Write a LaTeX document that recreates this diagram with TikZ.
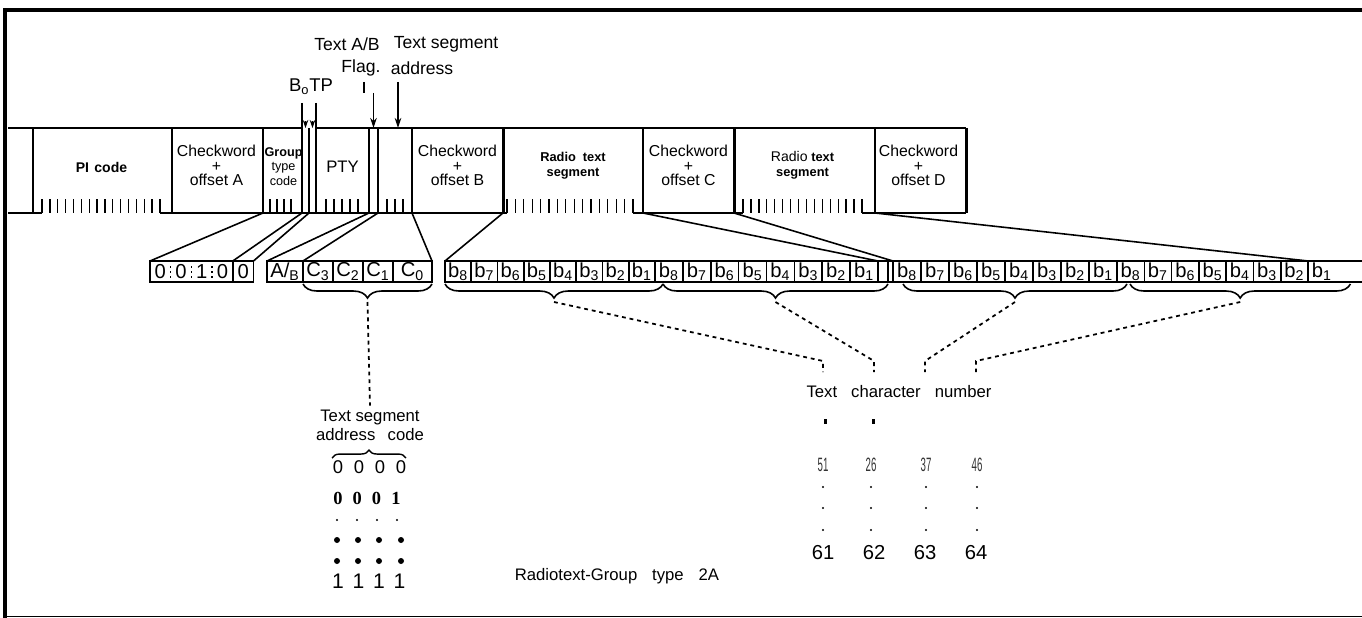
\documentclass[tikz,border=0pt]{standalone}
\usepackage{fontspec}
\setmainfont{Liberation Sans}
\newfontfamily\serifrm{Liberation Serif}
\usepackage{graphicx}
\usepackage{tikz}
\usetikzlibrary{
  arrows.meta, positioning, calc, decorations.pathreplacing
}
\tikzset{
  frame/.style ={line width=2.8pt},
  edge/.style  ={line width=0.85pt},
  bnd/.style   ={line width=1.7pt},
  tick/.style  ={line width=0.75pt},
  link/.style  ={line width=0.9pt},
  field/.style ={inner sep=0pt, outer sep=0pt, minimum height={85*0.02cm}},
  cwtext/.style={inner sep=0pt, align=center, font=\fontsize{9}{8.4}\selectfont},
  rttext/.style={inner sep=0pt, align=center, font=\fontsize{7.3}{8.4}\selectfont\bfseries},
  gttext/.style={inner sep=0pt, align=center, font=\fontsize{7.2}{8.2}\selectfont},
  pitext/.style={inner sep=0pt, font=\fontsize{8}{8}\selectfont\bfseries},
  toptext/.style={inner sep=0pt, font=\fontsize{10}{12}\selectfont},
  midtext/.style={inner sep=0pt, align=center, font=\fontsize{9.5}{10.5}\selectfont},
  num/.style   ={inner sep=0pt, font=\fontsize{10.5}{10.5}\selectfont},
  bit/.style   ={inner sep=0pt, outer sep=0pt, minimum height={21*0.02cm},
                 font=\fontsize{11.5}{11.5}\selectfont},
  bitbox/.style={bit, draw, line width=0.9pt},
  flagarr/.style={-{Stealth[length=2mm,width=1.3mm]}, line width=0.7pt},
  bitarr/.style ={-{Stealth[length=1.6mm,width=1.1mm]}, line width=0.5pt},
  brc/.style   ={decorate, decoration={brace, mirror, amplitude=8pt}, line width=0.9pt},
  brcup/.style ={decorate, decoration={brace, amplitude=4.5pt}, line width=0.8pt},
  dotln/.style ={line width=1pt, dash pattern=on 2.2pt off 2.2pt}
}
% one field of the group, geometry only
\newcommand{\fld}[3]{%
  \node[field, minimum width={(#3-#2)*0.02cm}] (#1) at ({(#2+#3)/2},170.5) {};}

\begin{document}
\begin{tikzpicture}[x=0.02cm, y=-0.02cm]
  \useasboundingbox (0,0) rectangle (1362,618);

  %% ── Frame ───────────────────────────────────────────────────────
  \draw[frame] (5,618) -- (5,10) -- (1362,10);
  \draw[edge] (5,616.5) -- (1362,616.5);

  %% ── Row 1: the group, field by field ───────────────────────────
  \fld{lead}{8}{33}
  \fld{pi}{33}{172}
  \fld{cwA}{172}{263}
  \fld{gtc}{263}{302}
  \fld{bzero}{302}{309}
  \fld{tp}{309}{316}
  \fld{pty}{316}{369}
  \fld{ab}{369}{378}
  \fld{tsa}{378}{412}
  \fld{cwB}{412}{503}
  \fld{rt1}{503}{643}
  \fld{cwC}{643}{734}
  \fld{rt2}{734}{875}
  \fld{cwD}{875}{966}

  % outline
  \draw[edge] (lead.north west) -- (bzero.north west);
  \draw[edge] (tp.north east) -- (cwD.north east);
  \draw[edge] (lead.south west) -- ([shift={(9,0)}]pi.south west);
  \draw[edge] ([shift={(-12,0)}]pi.south east) -- ([shift={(4,0)}]rt1.south west);
  \draw[edge] ([shift={(-10,0)}]rt1.south east) -- ([shift={(9,0)}]rt2.south west);
  \draw[edge] ([shift={(-13,0)}]rt2.south east) -- (cwD.south east);

  \draw[edge] (lead.north east) -- (lead.south east);
  \draw[bnd]  (pi.north east) -- (pi.south east);
  \draw[edge] (cwA.north east) -- (cwA.south east);
  \draw[bnd]  ([shift={(0,-25)}]bzero.north west) -- (bzero.south west);
  \draw[edge] (bzero.north east) -- (bzero.south east);
  \draw[bnd]  ([shift={(0,-25)}]tp.north east) -- (tp.south east);
  \draw[bnd]  (pty.north east) -- (pty.south east);
  \draw[edge] (ab.north east) -- (ab.south east);
  \draw[bnd]  (tsa.north east) -- (tsa.south east);
  \draw[bnd]  (cwB.north east) -- (cwB.south east);
  \draw[edge] (rt1.north east) -- (rt1.south east);
  \draw[bnd]  (cwC.north east) -- (cwC.south east);
  \draw[edge] (rt2.north east) -- (rt2.south east);
  \draw[bnd]  (cwD.north east) -- (cwD.south east);

  % bit ticks
  \foreach \i in {0,...,15}
    \draw[tick] ([shift={(9+\i*7.867,0)}]pi.south west) -- ++(0,-14);
  \foreach \i in {0,...,3}
    \draw[tick] ([shift={(7+\i*7,0)}]gtc.south west) -- ++(0,-14);
  \foreach \i in {0,...,4}
    \draw[tick] ([shift={(10+\i*8,0)}]pty.south west) -- ++(0,-14);
  \foreach \i in {0,...,2}
    \draw[tick] ([shift={(9+\i*8,0)}]tsa.south west) -- ++(0,-14);
  \foreach \i in {0,...,15}
    \draw[tick] ([shift={(4+\i*8.4,0)}]rt1.south west) -- ++(0,-14);
  \foreach \i in {0,...,15}
    \draw[tick] ([shift={(9+\i*7.93,0)}]rt2.south west) -- ++(0,-14);

  % field labels
  \node[pitext] (pi-t) at ([shift={(-1,-3.5)}]pi) {PI\hspace{3pt}code};
  \node[cwtext] (cwA-t) at ([shift={(-1,-5)}]cwA) {Checkword\\+\\offset A};
  \node[gttext] (gtc-t) at ([shift={(1,-4)}]gtc) {\textbf{Group}\\type\\code};
  \node[cwtext, font=\fontsize{9.5}{9.5}\selectfont] (pty-t) at ([shift={(0,-3.5)}]pty) {PTY};
  \node[cwtext] (cwB-t) at ([shift={(0,-5)}]cwB) {Checkword\\+\\offset B};
  \node[rttext] (rt1-t) at ([shift={(0,-5)}]rt1) {Radio\hspace{4pt}text\\segment};
  \node[cwtext] (cwC-t) at ([shift={(0,-5)}]cwC) {Checkword\\+\\offset C};
  \node[rttext] (rt2-t) at ([shift={(-2,-5)}]rt2) {{\mdseries\fontsize{8}{8.4}\selectfont Radio} text\\segment};
  \node[cwtext] (cwD-t) at ([shift={(-2,-5)}]cwD) {Checkword\\+\\offset D};

  %% ── Flags above the group ───────────────────────────────────────
  \node[toptext] (flagA) at (347,44) {Text A/B};
  \node[toptext] (segA)  at (446,44) {Text segment};
  \node[toptext] (flagB) at (361,68) {Flag.};
  \node[toptext] (segB)  at (422,68) {address};
  \node[toptext, font=\fontsize{10.5}{12}\selectfont] (btp) at (311,87) {B\textsubscript{o}TP};

  \draw[bitarr] ([shift={(0,-7)}]bzero.north) -- (bzero.north);
  \draw[bitarr] ([shift={(0,-7)}]tp.north) -- (tp.north);
  \draw[bnd] ([shift={(-9.5,-46)}]ab.north) -- ++(0,11);
  \draw[flagarr] ([shift={(0,-35)}]ab.north) -- (ab.north);
  \draw[flagarr] ([shift={(3,-46)}]tsa.north) -- ([shift={(3,0)}]tsa.north);

  %% ── Row 2: the bits ─────────────────────────────────────────────
  % group type code + B0
  \foreach \v [count=\i] in {0,0,1,0,0}
    \node[bit, minimum width={20.7*0.02cm}] (g\i) at ({150+20.7*(\i-0.5)},271.5) {\v};
  \draw[link] (g1.north west) rectangle (g5.south east);
  \foreach \i in {1,2,3}
    \draw[edge, dotted] (g\i.north east) -- (g\i.south east);
  \draw[edge] (g4.north east) -- (g4.south east);

  % text A/B flag + segment address
  \node[bitbox, minimum width={36*0.02cm}] (ab2) at (285,271.5) {A/\textsubscript{B}};
  \node[bitbox, minimum width={30*0.02cm}, right=0pt of ab2] (c3) {C\textsubscript{3}};
  \node[bitbox, minimum width={30*0.02cm}, right=0pt of c3] (c2) {C\textsubscript{2}};
  \node[bitbox, minimum width={30*0.02cm}, right=0pt of c2] (c1) {C\textsubscript{1}};
  \node[bitbox, minimum width={39*0.02cm}, right=0pt of c1] (c0) {C\textsubscript{0}};

  % four text characters
  \foreach \n/\x/\w in {1/445/26.25, 2/655/27.875, 3/893/28}
    \foreach \b [count=\i] in {8,...,1}
      \node[bitbox, minimum width={\w*0.02cm}] (p\n-\i) at ({\x+\w*(\i-0.5)},271.5) {b\textsubscript{\b}};
  \foreach \b [count=\i] in {8,...,2}
    \node[bitbox, minimum width={27.3*0.02cm}] (p4-\i) at ({1117+27.3*(\i-0.5)},271.5) {b\textsubscript{\b}};
  \node[bit, minimum width={27.3*0.02cm}, right=0pt of p4-7] (p4-8) {b\textsubscript{1}};
  \node[bitbox, minimum width={10*0.02cm}] (pc) at (883,271.5) {};
  \draw[link] (pc.north east) -- (p3-1.north west);
  \draw[link] (pc.south east) -- (p3-1.south west);
  \draw[link] (p4-7.north east) -- ++(60,0);
  \draw[link] (p4-7.south east) -- ++(60,0);

  %% ── Fan-out from the group to the bits ──────────────────────────
  \draw[link] (cwA.south east)   -- (g1.north west);
  \draw[link] (bzero.south west) -- (g5.north west);
  \draw[link] (bzero.south east) -- (g5.north east);
  \draw[link] (ab.south west)    -- (ab2.north west);
  \draw[link] (ab.south east)    -- (ab2.north east);
  \draw[link] (cwB.south west)   -- (c0.north east);
  \draw[link] (cwB.south east)   -- (p1-1.north west);
  \draw[link] (rt1.south east)   -- (pc.north west);
  \draw[link] (cwC.south east)   -- (p3-1.north west);
  \draw[link] (cwD.south west)   -- (p4-8.north west);

  %% ── Braces ──────────────────────────────────────────────────────
  \draw[brc] ([shift={(0,2)}]c3.south west) coordinate (kca)
          -- ([shift={(0,2)}]c0.south east) coordinate (kcb);
  \draw[brc] ([shift={(0,2)}]p1-1.south west) coordinate (k1a)
          -- ([shift={(8,2)}]p1-8.south east) coordinate (k1b);
  \draw[brc] ([shift={(8,2)}]p2-1.south west) coordinate (k2a)
          -- ([shift={(0,2)}]pc.south east) coordinate (k2b);
  \draw[brc] ([shift={(10,2)}]p3-1.south west) coordinate (k3a)
          -- ([shift={(10,2)}]p3-8.south east) coordinate (k3b);
  \draw[brc] ([shift={(13,2)}]p4-1.south west) coordinate (k4a)
          -- ([shift={(15,2)}]p4-8.south east) coordinate (k4b);
  \coordinate (kc) at ($(kca)!.5!(kcb)+(0,18)$);
  \foreach \k in {1,...,4}
    \coordinate (k\k) at ($(k\k a)!.5!(k\k b)+(0,18)$);

  %% ── Text segment address code ───────────────────────────────────
  \node[midtext, anchor=base] (tseg) at (370,440) {Text segment\\address\hspace{7pt}code};
  \draw[dotln] (kc) -- ([shift={(0,-4)}]tseg.north);

  \foreach \v [count=\i] in {0,0,0,0}
    \node[num] (s1-\i) at ({338+21*(\i-1)},467) {\v};
  \draw[brcup] ([shift={(-6,-9)}]s1-1.center) -- ([shift={(5,-9)}]s1-4.center);
  \foreach \v [count=\i] in {0,0,0,1}
    \node[num, font=\serifrm\bfseries\fontsize{10.5}{10.5}\selectfont] (s2-\i) at ({338+19.3*(\i-1)},498) {\v};
  \foreach \x in {337,357,377,397}
    \fill (\x,520) circle (1.1);
  \foreach \x in {337,358,379,401} {
    \fill (\x,540) circle (3);
    \fill (\x,561) circle (3);
  }
  \foreach \v [count=\i] in {1,1,1,1}
    \node[num, font=\fontsize{12}{12}\selectfont] (s3-\i) at ({338+20.5*(\i-1)},581) {\v};

  %% ── Text character number ───────────────────────────────────────
  \node[midtext, anchor=base] (tcn) at (899,397) {Text\hspace{8pt}character\hspace{8pt}number};
  \foreach \k/\c in {1/823, 2/874, 3/925, 4/976}
    \coordinate (e\k) at (\c,372);
  \foreach \k in {1,...,4}
    \draw[dotln] (k\k) -- ([shift={(0,-11)}]e\k) -- (e\k);
  \fill (823.5,419) rectangle ++(3,5);
  \fill (871.5,419) rectangle ++(3,5);

  \foreach \v/\c [count=\i] in {51/823, 26/871, 37/926, 46/977}
    \node[num, text=black!80] (m1-\i) at (\c,465) {\scalebox{0.5}[1]{\fontsize{11}{11}\selectfont\v}};
  \foreach \c in {823,871,926,977} {
    \fill (\c,487) circle (1.1);
    \fill (\c,508) circle (1.1);
    \fill (\c,530) circle (1.1);
  }
  \foreach \v/\c [count=\i] in {61/823, 62/874, 63/925, 64/976}
    \node[num, font=\fontsize{11.5}{11.5}\selectfont] (m2-\i) at (\c,553) {\v};

  %% ── Caption ─────────────────────────────────────────────────────
  \node[midtext, anchor=base] (cap) at (617,580) {Radiotext-Group\hspace{8.5pt}type\hspace{8.5pt}2A};
\end{tikzpicture}
\end{document}
